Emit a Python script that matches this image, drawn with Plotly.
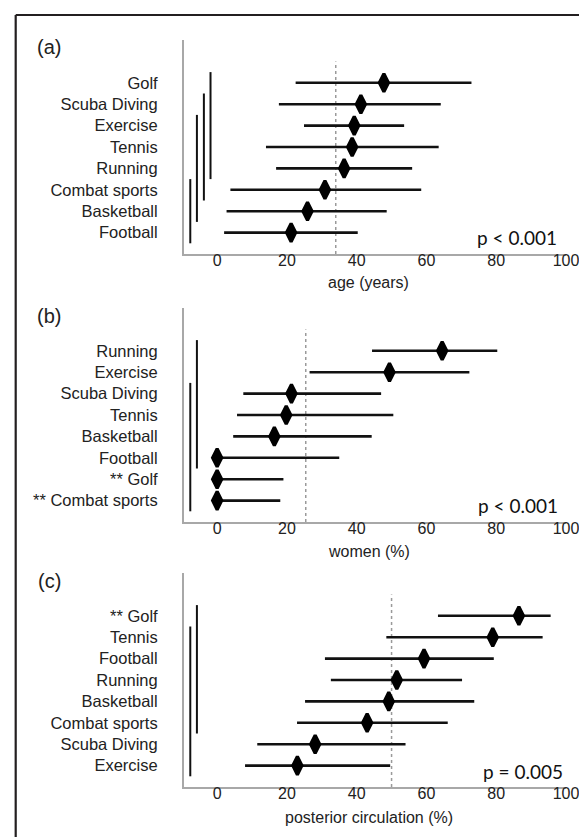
import plotly.graph_objects as go

W, H = 587, 837

# ---------------- data ----------------
age_labels = ["Golf", "Scuba Diving", "Exercise", "Tennis", "Running",
              "Combat sports", "Basketball", "Football"]
age_mean = [47.8, 41.2, 39.3, 38.7, 36.4, 30.9, 25.9, 21.2]
age_low = [22.5, 17.7, 24.9, 14.0, 16.9, 3.8, 2.7, 2.0]
age_high = [72.9, 64.1, 53.6, 63.5, 55.9, 58.5, 48.6, 40.3]
age_ref = 34.0
age_groups = [(-1.9, "Golf", "Running"),
              (-3.8, "Scuba Diving", "Combat sports"),
              (-5.8, "Exercise", "Basketball"),
              (-7.7, "Combat sports", "Football")]
age_p = "p < 0.001"
age_title = "age (years)"

women_labels = ["Running", "Exercise", "Scuba Diving", "Tennis", "Basketball",
                "Football", "** Golf", "** Combat sports"]
women_mean = [64.5, 49.4, 21.3, 19.8, 16.4, 0.0, 0.0, 0.0]
women_low = [44.4, 26.5, 7.5, 5.7, 4.6, 0.0, 0.0, 0.0]
women_high = [80.3, 72.3, 47.0, 50.5, 44.3, 35.0, 19.0, 18.1]
women_ref = 25.4
women_groups = [(-5.8, "Running", "Football"),
                (-7.7, "Scuba Diving", "** Combat sports")]
women_p = "p < 0.001"
women_title = "women (%)"

pc_labels = ["** Golf", "Tennis", "Football", "Running", "Basketball",
             "Combat sports", "Scuba Diving", "Exercise"]
pc_mean = [86.5, 79.0, 59.3, 51.5, 49.2, 43.0, 28.1, 23.0]
pc_low = [63.3, 48.5, 30.9, 32.6, 25.2, 22.9, 11.5, 8.0]
pc_high = [95.6, 93.3, 79.3, 70.2, 73.7, 66.1, 54.0, 49.6]
pc_ref = 50.0
pc_groups = [(-5.8, "** Golf", "Combat sports"),
             (-7.7, "Tennis", "Exercise")]
pc_p = "p = 0.005"
pc_title = "posterior circulation (%)"

x_ticks = [0, 20, 40, 60, 80, 100]
panel_names = ["(a)", "(b)", "(c)"]

# ---------------- layout geometry (pixels) ----------------
X0, X1 = 176, 558
panels_px = [(32, 246), (300, 514), (565, 779)]
label_y_px = [39, 308, 573]
p_y_px = [229.5, 497.5, 763.5]
p_x_px = [551, 552, 557]
title_y_px = [275, 543, 809]

FONT = "Liberation Sans, Arial, sans-serif"
TXT = "#222222"
AXC = "#a8a8a8"

panels = [
    (age_labels, age_mean, age_low, age_high, age_ref, age_groups, age_p, age_title),
    (women_labels, women_mean, women_low, women_high, women_ref, women_groups, women_p, women_title),
    (pc_labels, pc_mean, pc_low, pc_high, pc_ref, pc_groups, pc_p, pc_title),
]

fig = go.Figure()
layout = dict(
    width=W, height=H,
    margin=dict(l=0, r=0, t=0, b=0),
    paper_bgcolor="white", plot_bgcolor="white",
    showlegend=False,
    font=dict(family=FONT, size=16, color=TXT),
    annotations=[], shapes=[],
)

for k, (labels, mean, low, high, ref, groups, ptxt, xtitle) in enumerate(panels):
    n = len(labels)
    pos = {lab: n - 1 - i for i, lab in enumerate(labels)}
    ys = [pos[l] for l in labels]
    xa = "x" if k == 0 else f"x{k+1}"
    ya = "y" if k == 0 else f"y{k+1}"

    # reference dotted line
    fig.add_trace(go.Scatter(
        x=[ref, ref], y=[-1, n], xaxis=xa, yaxis=ya, mode="lines",
        line=dict(color="#9a9a9a", width=1.5, dash="dot"), hoverinfo="skip"))

    # homogeneous subset lines
    for gx, first, last in groups:
        fig.add_trace(go.Scatter(
            x=[gx, gx], y=[pos[first] + 0.5, pos[last] - 0.5], xaxis=xa, yaxis=ya,
            mode="lines", line=dict(color="#111111", width=2), hoverinfo="skip"))

    # confidence intervals + diamonds
    fig.add_trace(go.Scatter(
        x=mean, y=ys, xaxis=xa, yaxis=ya, mode="markers",
        marker=dict(symbol="diamond-tall", size=13, color="#000000",
                    line=dict(color="#000000", width=3.2)),
        error_x=dict(type="data", symmetric=False,
                     array=[h - m for h, m in zip(high, mean)],
                     arrayminus=[m - l for m, l in zip(mean, low)],
                     width=0, thickness=2.6, color="#111111"),
    ))

    top, bot = panels_px[k]
    xkey = "xaxis" if k == 0 else f"xaxis{k+1}"
    ykey = "yaxis" if k == 0 else f"yaxis{k+1}"
    layout[xkey] = dict(
        domain=[X0 / W, X1 / W], anchor=ya, range=[-9.5, 100],
        tickvals=x_ticks, ticks="", showgrid=False, zeroline=False,
        showline=True, linecolor=AXC, linewidth=2, ticklabelstandoff=-9,
        tickfont=dict(family=FONT, size=16, color=TXT), automargin=False)
    layout[ykey] = dict(
        domain=[1 - bot / H, 1 - top / H], anchor=xa, range=[-1, n + 1],
        tickvals=ys, ticktext=labels, ticks="", showgrid=False, zeroline=False,
        showline=True, linecolor=AXC, linewidth=2, ticklabelstandoff=21,
        tickfont=dict(family=FONT, size=16.5, color=TXT), automargin=False)

    layout["annotations"] += [
        dict(text=panel_names[k], xref="paper", yref="paper",
             x=41 / W, y=1 - label_y_px[k] / H, xanchor="center", yanchor="middle",
             showarrow=False, font=dict(family=FONT, size=20, color=TXT)),
        dict(text=ptxt, xref="paper", yref="paper",
             x=p_x_px[k] / W, y=1 - p_y_px[k] / H, xanchor="right", yanchor="middle",
             showarrow=False, font=dict(family="Lato, Open Sans, sans-serif", size=19, color="#111111")),
        dict(text=xtitle, xref=xa, yref="paper",
             x=43.5, y=1 - title_y_px[k] / H, xanchor="center", yanchor="middle",
             showarrow=False, font=dict(family=FONT, size=16, color=TXT)),
    ]

# figure frame (top and left edges)
layout["shapes"] += [
    dict(type="line", xref="paper", yref="paper", x0=7.7 / W, x1=1.0,
         y0=1 - 7 / H, y1=1 - 7 / H, line=dict(color="#231f20", width=2.2)),
    dict(type="line", xref="paper", yref="paper", x0=7.7 / W, x1=7.7 / W,
         y0=0, y1=1 - 7 / H, line=dict(color="#231f20", width=2.2)),
]

fig.update_layout(**layout)
fig.write_html("out.html")
